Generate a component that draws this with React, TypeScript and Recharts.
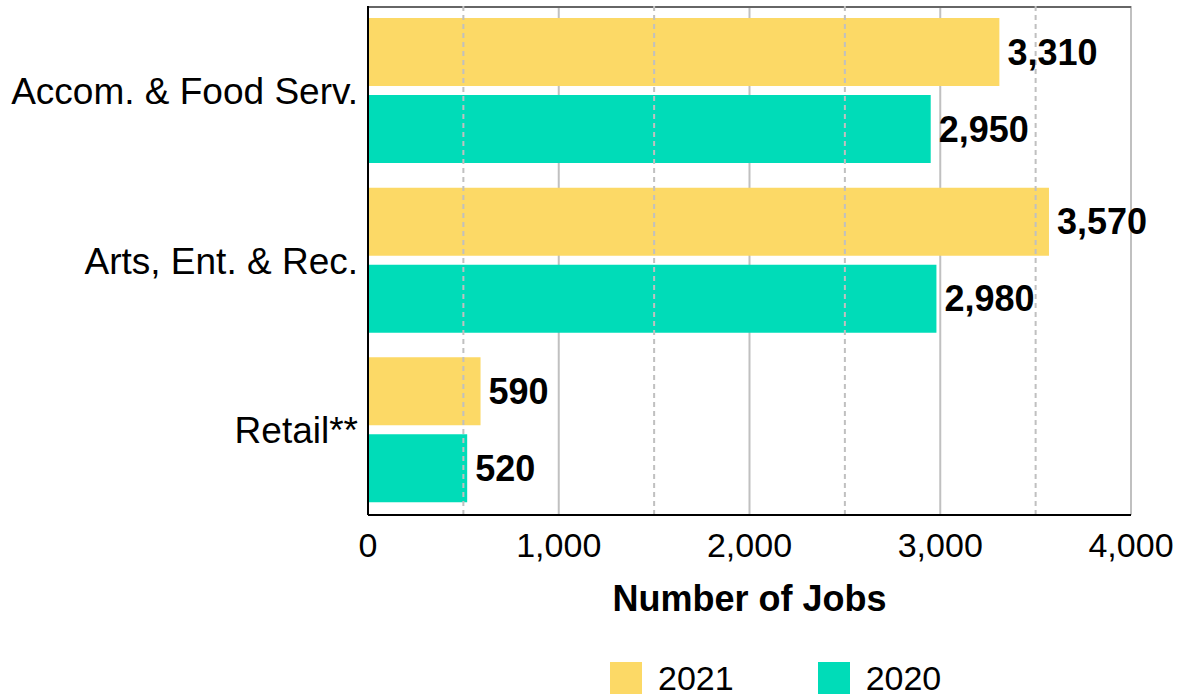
import { BarChart, Bar, XAxis, YAxis, CartesianGrid, ReferenceLine, LabelList, Legend } from 'recharts';

const categories = ['Accom. & Food Serv.', 'Arts, Ent. & Rec.', 'Retail**'];
const jobs2021 = [3310, 3570, 590];
const jobs2020 = [2950, 2980, 520];
const xTicks = [0, 1000, 2000, 3000, 4000];
const halfTicks = [500, 1500, 2500, 3500];

const data = categories.map((name, i) => ({ name, y2021: jobs2021[i], y2020: jobs2020[i] }));

const FONT = 'Liberation Sans, Arial, sans-serif';
const fmt = (v: number) => v.toLocaleString('en-US');

function LegendContent() {
  const items = [
    { label: '2021', color: '#fcd966' },
    { label: '2020', color: '#00dcb8' },
  ];
  return (
    <div style={{ display: 'flex', paddingLeft: 610, paddingTop: 36, fontFamily: FONT, fontSize: 34, lineHeight: '34px' }}>
      {items.map((it) => (
        <div key={it.label} style={{ display: 'flex', alignItems: 'center', marginRight: 84 }}>
          <span style={{ width: 32, height: 32, background: it.color, display: 'inline-block', marginRight: 16 }} />
          <span style={{ color: '#000' }}>{it.label}</span>
        </div>
      ))}
    </div>
  );
}

export default function App() {
  return (
    <div style={{ position: 'absolute', left: 0, top: 0, width: 1182, height: 695, background: '#fff' }}>
      <BarChart
        width={1182}
        height={695}
        data={data}
        layout="vertical"
        margin={{ top: 6, right: 51, bottom: 0, left: 0 }}
        barSize={68}
        barGap={9}
        barCategoryGap={12}
      >
        <CartesianGrid horizontal={false} vertical stroke="#c0c0c0" strokeWidth={2} />
        <CartesianGrid vertical={false} horizontalPoints={[7]} stroke="#666" strokeWidth={2} />
        {halfTicks.map((t) => (
          <ReferenceLine key={t} x={t} stroke="#c0c0c0" strokeWidth={2} strokeDasharray="5 4" />
        ))}
        <XAxis
          type="number"
          domain={[0, 4000]}
          ticks={xTicks}
          tickFormatter={fmt}
          height={110}
          tickLine={false}
          tickSize={0}
          tickMargin={18}
          axisLine={{ stroke: '#000', strokeWidth: 2 }}
          tick={{ fill: '#000', fontSize: 34, fontFamily: FONT }}
          label={{ value: 'Number of Jobs', position: 'insideBottom', offset: 14, fill: '#000', fontSize: 36, fontWeight: 'bold', fontFamily: FONT }}
        />
        <YAxis
          type="category"
          dataKey="name"
          width={368}
          tickLine={false}
          tickSize={0}
          tickMargin={10}
          axisLine={{ stroke: '#000', strokeWidth: 2 }}
          tick={{ fill: '#000', fontSize: 37, fontFamily: FONT }}
        />
        <Legend verticalAlign="bottom" height={70} content={() => <LegendContent />} />
        <Bar dataKey="y2021" name="2021" fill="#fcd966" isAnimationActive={false}>
          <LabelList dataKey="y2021" position="right" offset={8} formatter={(v: any) => fmt(Number(v))} fill="#000" fontSize={36} fontWeight="bold" fontFamily={FONT} />
        </Bar>
        <Bar dataKey="y2020" name="2020" fill="#00dcb8" isAnimationActive={false}>
          <LabelList dataKey="y2020" position="right" offset={8} formatter={(v: any) => fmt(Number(v))} fill="#000" fontSize={36} fontWeight="bold" fontFamily={FONT} />
        </Bar>
      </BarChart>
    </div>
  );
}
